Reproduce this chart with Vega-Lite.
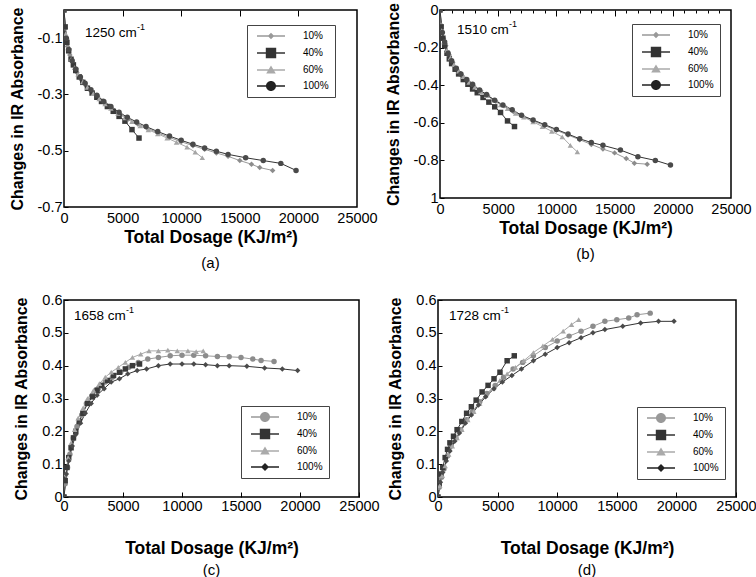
{
"padding": {"left": 8, "top": 1, "right": 3, "bottom": 0},
"config": {
  "font": "Liberation Sans",
  "view": {"stroke": "#000", "strokeWidth": 1.5},
  "axis": {"grid": false, "domain": false, "labelFontSize": 14.5, "labelColor": "#000", "titleFontSize": 16, "titleFontWeight": "bold", "titleColor": "#000", "tickColor": "#000", "tickWidth": 1},
  "axisX": {"titleFontSize": 17.5},
  "title": {"fontSize": 15, "fontWeight": "normal", "color": "#000", "font": "Liberation Sans"},
  "legend": {"labelFontSize": 10, "labelColor": "#000", "fillColor": "white", "strokeColor": "#444", "padding": 6, "rowPadding": 6, "symbolSize": 64, "symbolOpacity": 1, "symbolStrokeWidth": 0}
},
"spacing": 19,
"resolve": {"scale": {"x": "independent", "y": "independent", "color": "independent", "shape": "independent"}, "axis": {"x": "independent", "y": "independent"}, "legend": {"color": "independent", "shape": "independent"}},
"datasets": {"d": [
{"p":"a","s":"10%","x":0,"y":0},{"p":"a","s":"10%","x":100,"y":-0.065},{"p":"a","s":"10%","x":300,"y":-0.13},{"p":"a","s":"10%","x":500,"y":-0.16},{"p":"a","s":"10%","x":800,"y":-0.195},{"p":"a","s":"10%","x":1100,"y":-0.222},{"p":"a","s":"10%","x":1500,"y":-0.25},{"p":"a","s":"10%","x":1900,"y":-0.27},{"p":"a","s":"10%","x":2400,"y":-0.292},{"p":"a","s":"10%","x":2900,"y":-0.31},{"p":"a","s":"10%","x":3500,"y":-0.332},{"p":"a","s":"10%","x":4100,"y":-0.35},{"p":"a","s":"10%","x":4800,"y":-0.37},{"p":"a","s":"10%","x":5500,"y":-0.387},{"p":"a","s":"10%","x":6300,"y":-0.405},{"p":"a","s":"10%","x":7100,"y":-0.42},{"p":"a","s":"10%","x":8000,"y":-0.437},{"p":"a","s":"10%","x":9000,"y":-0.453},{"p":"a","s":"10%","x":10000,"y":-0.468},{"p":"a","s":"10%","x":11000,"y":-0.482},{"p":"a","s":"10%","x":12000,"y":-0.495},{"p":"a","s":"10%","x":13000,"y":-0.508},{"p":"a","s":"10%","x":14000,"y":-0.52},{"p":"a","s":"10%","x":15000,"y":-0.535},{"p":"a","s":"10%","x":16000,"y":-0.548},{"p":"a","s":"10%","x":16700,"y":-0.56},{"p":"a","s":"10%","x":17800,"y":-0.57},
{"p":"a","s":"40%","x":0,"y":0},{"p":"a","s":"40%","x":100,"y":-0.06},{"p":"a","s":"40%","x":250,"y":-0.115},{"p":"a","s":"40%","x":400,"y":-0.145},{"p":"a","s":"40%","x":600,"y":-0.175},{"p":"a","s":"40%","x":800,"y":-0.195},{"p":"a","s":"40%","x":1000,"y":-0.215},{"p":"a","s":"40%","x":1300,"y":-0.238},{"p":"a","s":"40%","x":1600,"y":-0.257},{"p":"a","s":"40%","x":2000,"y":-0.278},{"p":"a","s":"40%","x":2400,"y":-0.295},{"p":"a","s":"40%","x":2800,"y":-0.31},{"p":"a","s":"40%","x":3200,"y":-0.325},{"p":"a","s":"40%","x":3700,"y":-0.343},{"p":"a","s":"40%","x":4200,"y":-0.36},{"p":"a","s":"40%","x":4700,"y":-0.378},{"p":"a","s":"40%","x":5200,"y":-0.395},{"p":"a","s":"40%","x":5800,"y":-0.425},{"p":"a","s":"40%","x":6400,"y":-0.455},
{"p":"a","s":"60%","x":0,"y":0},{"p":"a","s":"60%","x":150,"y":-0.085},{"p":"a","s":"60%","x":350,"y":-0.135},{"p":"a","s":"60%","x":600,"y":-0.175},{"p":"a","s":"60%","x":900,"y":-0.205},{"p":"a","s":"60%","x":1200,"y":-0.228},{"p":"a","s":"60%","x":1600,"y":-0.255},{"p":"a","s":"60%","x":2000,"y":-0.275},{"p":"a","s":"60%","x":2500,"y":-0.297},{"p":"a","s":"60%","x":3000,"y":-0.316},{"p":"a","s":"60%","x":3500,"y":-0.334},{"p":"a","s":"60%","x":4000,"y":-0.35},{"p":"a","s":"60%","x":4600,"y":-0.367},{"p":"a","s":"60%","x":5200,"y":-0.383},{"p":"a","s":"60%","x":5800,"y":-0.397},{"p":"a","s":"60%","x":6500,"y":-0.412},{"p":"a","s":"60%","x":7200,"y":-0.426},{"p":"a","s":"60%","x":8000,"y":-0.44},{"p":"a","s":"60%","x":8800,"y":-0.455},{"p":"a","s":"60%","x":9600,"y":-0.47},{"p":"a","s":"60%","x":10500,"y":-0.487},{"p":"a","s":"60%","x":11200,"y":-0.505},{"p":"a","s":"60%","x":11800,"y":-0.525},
{"p":"a","s":"100%","x":0,"y":0},{"p":"a","s":"100%","x":200,"y":-0.1},{"p":"a","s":"100%","x":400,"y":-0.14},{"p":"a","s":"100%","x":700,"y":-0.18},{"p":"a","s":"100%","x":1000,"y":-0.21},{"p":"a","s":"100%","x":1400,"y":-0.238},{"p":"a","s":"100%","x":1800,"y":-0.26},{"p":"a","s":"100%","x":2300,"y":-0.283},{"p":"a","s":"100%","x":2800,"y":-0.303},{"p":"a","s":"100%","x":3400,"y":-0.325},{"p":"a","s":"100%","x":4000,"y":-0.343},{"p":"a","s":"100%","x":4700,"y":-0.363},{"p":"a","s":"100%","x":5400,"y":-0.381},{"p":"a","s":"100%","x":6200,"y":-0.398},{"p":"a","s":"100%","x":7000,"y":-0.414},{"p":"a","s":"100%","x":8000,"y":-0.432},{"p":"a","s":"100%","x":9000,"y":-0.448},{"p":"a","s":"100%","x":10000,"y":-0.463},{"p":"a","s":"100%","x":11000,"y":-0.477},{"p":"a","s":"100%","x":12000,"y":-0.49},{"p":"a","s":"100%","x":13000,"y":-0.502},{"p":"a","s":"100%","x":14000,"y":-0.513},{"p":"a","s":"100%","x":15500,"y":-0.525},{"p":"a","s":"100%","x":17000,"y":-0.535},{"p":"a","s":"100%","x":18500,"y":-0.545},{"p":"a","s":"100%","x":19800,"y":-0.57},

{"p":"b","s":"10%","x":0,"y":0},{"p":"b","s":"10%","x":100,"y":-0.08},{"p":"b","s":"10%","x":300,"y":-0.15},{"p":"b","s":"10%","x":500,"y":-0.19},{"p":"b","s":"10%","x":800,"y":-0.24},{"p":"b","s":"10%","x":1100,"y":-0.28},{"p":"b","s":"10%","x":1500,"y":-0.32},{"p":"b","s":"10%","x":1900,"y":-0.35},{"p":"b","s":"10%","x":2400,"y":-0.38},{"p":"b","s":"10%","x":2900,"y":-0.405},{"p":"b","s":"10%","x":3500,"y":-0.43},{"p":"b","s":"10%","x":4100,"y":-0.455},{"p":"b","s":"10%","x":4800,"y":-0.485},{"p":"b","s":"10%","x":5500,"y":-0.51},{"p":"b","s":"10%","x":6300,"y":-0.54},{"p":"b","s":"10%","x":7100,"y":-0.565},{"p":"b","s":"10%","x":8000,"y":-0.59},{"p":"b","s":"10%","x":9000,"y":-0.615},{"p":"b","s":"10%","x":10000,"y":-0.64},{"p":"b","s":"10%","x":11000,"y":-0.665},{"p":"b","s":"10%","x":12000,"y":-0.69},{"p":"b","s":"10%","x":13000,"y":-0.715},{"p":"b","s":"10%","x":14000,"y":-0.74},{"p":"b","s":"10%","x":15000,"y":-0.76},{"p":"b","s":"10%","x":16000,"y":-0.79},{"p":"b","s":"10%","x":16700,"y":-0.815},{"p":"b","s":"10%","x":17800,"y":-0.82},
{"p":"b","s":"40%","x":0,"y":0},{"p":"b","s":"40%","x":100,"y":-0.09},{"p":"b","s":"40%","x":250,"y":-0.15},{"p":"b","s":"40%","x":400,"y":-0.19},{"p":"b","s":"40%","x":600,"y":-0.23},{"p":"b","s":"40%","x":800,"y":-0.26},{"p":"b","s":"40%","x":1000,"y":-0.285},{"p":"b","s":"40%","x":1300,"y":-0.315},{"p":"b","s":"40%","x":1600,"y":-0.34},{"p":"b","s":"40%","x":2000,"y":-0.37},{"p":"b","s":"40%","x":2400,"y":-0.395},{"p":"b","s":"40%","x":2800,"y":-0.42},{"p":"b","s":"40%","x":3200,"y":-0.44},{"p":"b","s":"40%","x":3700,"y":-0.465},{"p":"b","s":"40%","x":4200,"y":-0.49},{"p":"b","s":"40%","x":4700,"y":-0.515},{"p":"b","s":"40%","x":5200,"y":-0.545},{"p":"b","s":"40%","x":5800,"y":-0.59},{"p":"b","s":"40%","x":6400,"y":-0.62},
{"p":"b","s":"60%","x":0,"y":0},{"p":"b","s":"60%","x":150,"y":-0.11},{"p":"b","s":"60%","x":350,"y":-0.17},{"p":"b","s":"60%","x":600,"y":-0.215},{"p":"b","s":"60%","x":900,"y":-0.255},{"p":"b","s":"60%","x":1200,"y":-0.29},{"p":"b","s":"60%","x":1600,"y":-0.325},{"p":"b","s":"60%","x":2000,"y":-0.355},{"p":"b","s":"60%","x":2500,"y":-0.385},{"p":"b","s":"60%","x":3000,"y":-0.41},{"p":"b","s":"60%","x":3500,"y":-0.435},{"p":"b","s":"60%","x":4000,"y":-0.455},{"p":"b","s":"60%","x":4600,"y":-0.48},{"p":"b","s":"60%","x":5200,"y":-0.505},{"p":"b","s":"60%","x":5800,"y":-0.525},{"p":"b","s":"60%","x":6500,"y":-0.55},{"p":"b","s":"60%","x":7200,"y":-0.57},{"p":"b","s":"60%","x":8000,"y":-0.595},{"p":"b","s":"60%","x":8800,"y":-0.62},{"p":"b","s":"60%","x":9600,"y":-0.645},{"p":"b","s":"60%","x":10500,"y":-0.675},{"p":"b","s":"60%","x":11200,"y":-0.72},{"p":"b","s":"60%","x":11800,"y":-0.755},
{"p":"b","s":"100%","x":0,"y":0},{"p":"b","s":"100%","x":200,"y":-0.12},{"p":"b","s":"100%","x":400,"y":-0.17},{"p":"b","s":"100%","x":700,"y":-0.23},{"p":"b","s":"100%","x":1000,"y":-0.27},{"p":"b","s":"100%","x":1400,"y":-0.31},{"p":"b","s":"100%","x":1800,"y":-0.34},{"p":"b","s":"100%","x":2300,"y":-0.37},{"p":"b","s":"100%","x":2800,"y":-0.395},{"p":"b","s":"100%","x":3400,"y":-0.425},{"p":"b","s":"100%","x":4000,"y":-0.45},{"p":"b","s":"100%","x":4700,"y":-0.48},{"p":"b","s":"100%","x":5400,"y":-0.505},{"p":"b","s":"100%","x":6200,"y":-0.53},{"p":"b","s":"100%","x":7000,"y":-0.56},{"p":"b","s":"100%","x":8000,"y":-0.585},{"p":"b","s":"100%","x":9000,"y":-0.61},{"p":"b","s":"100%","x":10000,"y":-0.635},{"p":"b","s":"100%","x":11000,"y":-0.66},{"p":"b","s":"100%","x":12000,"y":-0.685},{"p":"b","s":"100%","x":13000,"y":-0.705},{"p":"b","s":"100%","x":14000,"y":-0.72},{"p":"b","s":"100%","x":15500,"y":-0.745},{"p":"b","s":"100%","x":17000,"y":-0.78},{"p":"b","s":"100%","x":18500,"y":-0.8},{"p":"b","s":"100%","x":19800,"y":-0.825},

{"p":"c","s":"10%","x":0,"y":0},{"p":"c","s":"10%","x":100,"y":0.04},{"p":"c","s":"10%","x":300,"y":0.09},{"p":"c","s":"10%","x":500,"y":0.13},{"p":"c","s":"10%","x":800,"y":0.18},{"p":"c","s":"10%","x":1100,"y":0.215},{"p":"c","s":"10%","x":1500,"y":0.25},{"p":"c","s":"10%","x":1900,"y":0.285},{"p":"c","s":"10%","x":2400,"y":0.31},{"p":"c","s":"10%","x":2900,"y":0.33},{"p":"c","s":"10%","x":3500,"y":0.35},{"p":"c","s":"10%","x":4100,"y":0.365},{"p":"c","s":"10%","x":4800,"y":0.38},{"p":"c","s":"10%","x":5500,"y":0.395},{"p":"c","s":"10%","x":6300,"y":0.41},{"p":"c","s":"10%","x":7100,"y":0.42},{"p":"c","s":"10%","x":8000,"y":0.425},{"p":"c","s":"10%","x":9000,"y":0.43},{"p":"c","s":"10%","x":10000,"y":0.432},{"p":"c","s":"10%","x":11000,"y":0.432},{"p":"c","s":"10%","x":12000,"y":0.43},{"p":"c","s":"10%","x":13000,"y":0.428},{"p":"c","s":"10%","x":14000,"y":0.427},{"p":"c","s":"10%","x":15000,"y":0.425},{"p":"c","s":"10%","x":16000,"y":0.42},{"p":"c","s":"10%","x":16700,"y":0.416},{"p":"c","s":"10%","x":17800,"y":0.413},
{"p":"c","s":"40%","x":0,"y":0},{"p":"c","s":"40%","x":100,"y":0.05},{"p":"c","s":"40%","x":250,"y":0.09},{"p":"c","s":"40%","x":400,"y":0.12},{"p":"c","s":"40%","x":600,"y":0.15},{"p":"c","s":"40%","x":800,"y":0.18},{"p":"c","s":"40%","x":1000,"y":0.2},{"p":"c","s":"40%","x":1300,"y":0.23},{"p":"c","s":"40%","x":1600,"y":0.255},{"p":"c","s":"40%","x":2000,"y":0.285},{"p":"c","s":"40%","x":2400,"y":0.305},{"p":"c","s":"40%","x":2800,"y":0.325},{"p":"c","s":"40%","x":3200,"y":0.34},{"p":"c","s":"40%","x":3700,"y":0.355},{"p":"c","s":"40%","x":4200,"y":0.37},{"p":"c","s":"40%","x":4700,"y":0.38},{"p":"c","s":"40%","x":5200,"y":0.39},{"p":"c","s":"40%","x":5800,"y":0.4},{"p":"c","s":"40%","x":6400,"y":0.405},
{"p":"c","s":"60%","x":0,"y":0},{"p":"c","s":"60%","x":150,"y":0.07},{"p":"c","s":"60%","x":350,"y":0.12},{"p":"c","s":"60%","x":600,"y":0.165},{"p":"c","s":"60%","x":900,"y":0.205},{"p":"c","s":"60%","x":1200,"y":0.24},{"p":"c","s":"60%","x":1600,"y":0.27},{"p":"c","s":"60%","x":2000,"y":0.3},{"p":"c","s":"60%","x":2500,"y":0.325},{"p":"c","s":"60%","x":3000,"y":0.345},{"p":"c","s":"60%","x":3500,"y":0.365},{"p":"c","s":"60%","x":4000,"y":0.38},{"p":"c","s":"60%","x":4600,"y":0.395},{"p":"c","s":"60%","x":5200,"y":0.41},{"p":"c","s":"60%","x":5800,"y":0.425},{"p":"c","s":"60%","x":6500,"y":0.435},{"p":"c","s":"60%","x":7200,"y":0.445},{"p":"c","s":"60%","x":8000,"y":0.445},{"p":"c","s":"60%","x":8800,"y":0.447},{"p":"c","s":"60%","x":9600,"y":0.445},{"p":"c","s":"60%","x":10500,"y":0.445},{"p":"c","s":"60%","x":11200,"y":0.443},{"p":"c","s":"60%","x":11800,"y":0.445},
{"p":"c","s":"100%","x":0,"y":0},{"p":"c","s":"100%","x":200,"y":0.07},{"p":"c","s":"100%","x":400,"y":0.11},{"p":"c","s":"100%","x":700,"y":0.155},{"p":"c","s":"100%","x":1000,"y":0.19},{"p":"c","s":"100%","x":1400,"y":0.225},{"p":"c","s":"100%","x":1800,"y":0.255},{"p":"c","s":"100%","x":2300,"y":0.285},{"p":"c","s":"100%","x":2800,"y":0.31},{"p":"c","s":"100%","x":3400,"y":0.33},{"p":"c","s":"100%","x":4000,"y":0.35},{"p":"c","s":"100%","x":4700,"y":0.36},{"p":"c","s":"100%","x":5400,"y":0.375},{"p":"c","s":"100%","x":6200,"y":0.385},{"p":"c","s":"100%","x":7000,"y":0.39},{"p":"c","s":"100%","x":8000,"y":0.4},{"p":"c","s":"100%","x":9000,"y":0.405},{"p":"c","s":"100%","x":10000,"y":0.405},{"p":"c","s":"100%","x":11000,"y":0.405},{"p":"c","s":"100%","x":12000,"y":0.403},{"p":"c","s":"100%","x":13000,"y":0.4},{"p":"c","s":"100%","x":14000,"y":0.4},{"p":"c","s":"100%","x":15500,"y":0.398},{"p":"c","s":"100%","x":17000,"y":0.393},{"p":"c","s":"100%","x":18500,"y":0.39},{"p":"c","s":"100%","x":19800,"y":0.385},

{"p":"d","s":"10%","x":0,"y":0},{"p":"d","s":"10%","x":100,"y":0.03},{"p":"d","s":"10%","x":300,"y":0.06},{"p":"d","s":"10%","x":500,"y":0.085},{"p":"d","s":"10%","x":800,"y":0.125},{"p":"d","s":"10%","x":1100,"y":0.155},{"p":"d","s":"10%","x":1500,"y":0.18},{"p":"d","s":"10%","x":1900,"y":0.205},{"p":"d","s":"10%","x":2400,"y":0.235},{"p":"d","s":"10%","x":2900,"y":0.26},{"p":"d","s":"10%","x":3500,"y":0.29},{"p":"d","s":"10%","x":4100,"y":0.315},{"p":"d","s":"10%","x":4800,"y":0.34},{"p":"d","s":"10%","x":5500,"y":0.365},{"p":"d","s":"10%","x":6300,"y":0.39},{"p":"d","s":"10%","x":7100,"y":0.41},{"p":"d","s":"10%","x":8000,"y":0.43},{"p":"d","s":"10%","x":9000,"y":0.455},{"p":"d","s":"10%","x":10000,"y":0.475},{"p":"d","s":"10%","x":11000,"y":0.49},{"p":"d","s":"10%","x":12000,"y":0.505},{"p":"d","s":"10%","x":13000,"y":0.52},{"p":"d","s":"10%","x":14000,"y":0.535},{"p":"d","s":"10%","x":15000,"y":0.54},{"p":"d","s":"10%","x":16000,"y":0.545},{"p":"d","s":"10%","x":16700,"y":0.555},{"p":"d","s":"10%","x":17800,"y":0.56},
{"p":"d","s":"40%","x":0,"y":0},{"p":"d","s":"40%","x":100,"y":0.04},{"p":"d","s":"40%","x":250,"y":0.07},{"p":"d","s":"40%","x":400,"y":0.09},{"p":"d","s":"40%","x":600,"y":0.12},{"p":"d","s":"40%","x":800,"y":0.145},{"p":"d","s":"40%","x":1000,"y":0.165},{"p":"d","s":"40%","x":1300,"y":0.185},{"p":"d","s":"40%","x":1600,"y":0.205},{"p":"d","s":"40%","x":2000,"y":0.23},{"p":"d","s":"40%","x":2400,"y":0.255},{"p":"d","s":"40%","x":2800,"y":0.275},{"p":"d","s":"40%","x":3200,"y":0.295},{"p":"d","s":"40%","x":3700,"y":0.32},{"p":"d","s":"40%","x":4200,"y":0.34},{"p":"d","s":"40%","x":4700,"y":0.36},{"p":"d","s":"40%","x":5200,"y":0.38},{"p":"d","s":"40%","x":5800,"y":0.415},{"p":"d","s":"40%","x":6400,"y":0.43},
{"p":"d","s":"60%","x":0,"y":0},{"p":"d","s":"60%","x":150,"y":0.035},{"p":"d","s":"60%","x":350,"y":0.065},{"p":"d","s":"60%","x":600,"y":0.095},{"p":"d","s":"60%","x":900,"y":0.13},{"p":"d","s":"60%","x":1200,"y":0.155},{"p":"d","s":"60%","x":1600,"y":0.18},{"p":"d","s":"60%","x":2000,"y":0.205},{"p":"d","s":"60%","x":2500,"y":0.235},{"p":"d","s":"60%","x":3000,"y":0.26},{"p":"d","s":"60%","x":3500,"y":0.285},{"p":"d","s":"60%","x":4000,"y":0.31},{"p":"d","s":"60%","x":4600,"y":0.33},{"p":"d","s":"60%","x":5200,"y":0.355},{"p":"d","s":"60%","x":5800,"y":0.375},{"p":"d","s":"60%","x":6500,"y":0.395},{"p":"d","s":"60%","x":7200,"y":0.415},{"p":"d","s":"60%","x":8000,"y":0.44},{"p":"d","s":"60%","x":8800,"y":0.46},{"p":"d","s":"60%","x":9600,"y":0.48},{"p":"d","s":"60%","x":10500,"y":0.505},{"p":"d","s":"60%","x":11200,"y":0.525},{"p":"d","s":"60%","x":11800,"y":0.54},
{"p":"d","s":"100%","x":0,"y":0},{"p":"d","s":"100%","x":200,"y":0.045},{"p":"d","s":"100%","x":400,"y":0.075},{"p":"d","s":"100%","x":700,"y":0.11},{"p":"d","s":"100%","x":1000,"y":0.14},{"p":"d","s":"100%","x":1400,"y":0.17},{"p":"d","s":"100%","x":1800,"y":0.195},{"p":"d","s":"100%","x":2300,"y":0.225},{"p":"d","s":"100%","x":2800,"y":0.25},{"p":"d","s":"100%","x":3400,"y":0.28},{"p":"d","s":"100%","x":4000,"y":0.305},{"p":"d","s":"100%","x":4700,"y":0.33},{"p":"d","s":"100%","x":5400,"y":0.35},{"p":"d","s":"100%","x":6200,"y":0.37},{"p":"d","s":"100%","x":7000,"y":0.39},{"p":"d","s":"100%","x":8000,"y":0.415},{"p":"d","s":"100%","x":9000,"y":0.435},{"p":"d","s":"100%","x":10000,"y":0.455},{"p":"d","s":"100%","x":11000,"y":0.47},{"p":"d","s":"100%","x":12000,"y":0.485},{"p":"d","s":"100%","x":13000,"y":0.5},{"p":"d","s":"100%","x":14000,"y":0.51},{"p":"d","s":"100%","x":15500,"y":0.52},{"p":"d","s":"100%","x":17000,"y":0.53},{"p":"d","s":"100%","x":18500,"y":0.535},{"p":"d","s":"100%","x":19800,"y":0.535}
]},
"vconcat": [
 {"hconcat": [
  {"width": 293, "height": 197,
   "title": {"text": "(a)", "orient": "bottom", "offset": 10},
   "layer": [
    {"data": {"name": "d"}, "transform": [{"filter": "datum.p == 'a'"}],
     "mark": {"type": "line", "strokeWidth": 1, "clip": true},
     "encoding": {
      "x": {"field": "x", "type": "quantitative", "scale": {"domain": [0, 25000], "nice": false, "zero": false}, "axis": {"orient": "top", "labels": false, "title": null, "values": [5000, 10000, 15000, 20000], "tickSize": -6}},
      "y": {"field": "y", "type": "quantitative", "scale": {"domain": [-0.7, 0], "nice": false, "zero": false}, "axis": {"title": "Changes in IR Absorbance", "values": [-0.7, -0.5, -0.3, -0.1], "labelExpr": "'-' + format(-datum.value, '.1f')", "tickSize": -4, "labelPadding": 6, "titlePadding": 12}},
      "color": {"field": "s", "type": "nominal", "scale": {"domain": ["10%", "40%", "60%", "100%"], "range": ["#9a9a9a", "#333333", "#aaaaaa", "#333333"]}, "legend": null}}},
    {"data": {"name": "d"}, "transform": [{"filter": "datum.p == 'a'"}],
     "mark": {"type": "point", "filled": true, "size": 30, "opacity": 1, "clip": true},
     "encoding": {
      "x": {"field": "x", "type": "quantitative", "scale": {"domain": [0, 25000], "nice": false, "zero": false}, "axis": {"title": "Total Dosage (KJ/m²)", "values": [0, 5000, 10000, 15000, 20000, 25000], "format": "d", "ticks": false, "labelPadding": 4, "titlePadding": 4, "labelFlush": false}},
      "y": {"field": "y", "type": "quantitative", "scale": {"domain": [-0.7, 0], "nice": false, "zero": false}, "axis": null},
      "color": {"field": "s", "type": "nominal", "scale": {"domain": ["10%", "40%", "60%", "100%"], "range": ["#8c8c8c", "#3a3a3a", "#a6a6a6", "#4a4a4a"]}, "legend": null},
      "shape": {"field": "s", "type": "nominal", "scale": {"domain": ["10%", "40%", "60%", "100%"], "range": ["diamond", "square", "triangle-up", "circle"]}, "legend": null}}},
    {"data": {"name": "d"}, "transform": [{"filter": "datum.p == 'a'"}],
     "mark": {"type": "point", "filled": true, "opacity": 0},
     "encoding": {
      "x": {"field": "x", "type": "quantitative", "scale": {"domain": [0, 25000], "nice": false, "zero": false}, "axis": null},
      "y": {"field": "y", "type": "quantitative", "scale": {"domain": [-0.7, 0], "nice": false, "zero": false}, "axis": null},
      "color": {"field": "s", "type": "nominal", "scale": {"domain": ["10%", "40%", "60%", "100%"], "range": ["#999999", "#333333", "#aaaaaa", "#222222"]}, "legend": {"orient": "none", "legendX": 183, "legendY": 15, "title": null, "symbolOffset": 13, "labelOffset": 27}},
      "shape": {"field": "s", "type": "nominal", "scale": {"domain": ["10%", "40%", "60%", "100%"], "range": ["M-3.5,-0.18H3.5V0.18H-3.5Z M0,-0.8L0.8,0L0,0.8L-0.8,0Z", "M-3.5,-0.18H3.5V0.18H-3.5Z M-1.3,-1.3H1.3V1.3H-1.3Z", "M-3.5,-0.18H3.5V0.18H-3.5Z M0,-1.1L1.2,0.9H-1.2Z", "M-3.5,-0.18H3.5V0.18H-3.5Z M-1.25,0A1.25,1.25,0,1,1,1.25,0A1.25,1.25,0,1,1,-1.25,0Z"]}, "legend": {"orient": "none", "legendX": 183, "legendY": 15, "title": null, "symbolOffset": 13, "labelOffset": 27}}}},
    {"data": {"values": [{}]},
     "mark": {"type": "text", "align": "left", "baseline": "middle", "fontSize": 13.5},
     "encoding": {"x": {"datum": 1790, "type": "quantitative", "scale": {"domain": [0, 25000], "nice": false, "zero": false}, "axis": null}, "y": {"datum": -0.08, "type": "quantitative", "scale": {"domain": [-0.7, 0], "nice": false, "zero": false}, "axis": null}, "text": {"value": "1250 cm"}}},
    {"data": {"values": [{}]},
     "mark": {"type": "text", "align": "left", "baseline": "middle", "fontSize": 9, "dx": 52, "dy": -6},
     "encoding": {"x": {"datum": 1790, "type": "quantitative", "scale": {"domain": [0, 25000], "nice": false, "zero": false}, "axis": null}, "y": {"datum": -0.08, "type": "quantitative", "scale": {"domain": [-0.7, 0], "nice": false, "zero": false}, "axis": null}, "text": {"value": "-1"}}}
   ],
   "resolve": {"scale": {"color": "independent", "shape": "independent"}, "axis": {"x": "independent", "y": "independent"}}
  },
  {"width": 291, "height": 188,
   "title": {"text": "(b)", "orient": "bottom", "offset": 10},
   "layer": [
    {"data": {"name": "d"}, "transform": [{"filter": "datum.p == 'b'"}],
     "mark": {"type": "line", "strokeWidth": 1, "clip": true},
     "encoding": {
      "x": {"field": "x", "type": "quantitative", "scale": {"domain": [0, 25000], "nice": false, "zero": false}, "axis": {"orient": "top", "labels": false, "title": null, "values": [1000, 2000, 3000, 4000, 5000, 6000, 7000, 8000, 9000, 10000, 11000, 12000, 13000, 14000, 15000, 16000, 17000, 18000, 19000, 20000, 21000, 22000, 23000, 24000], "tickSize": {"condition": {"test": "datum.value % 5000 == 0", "value": -6}, "value": -3}}},
      "y": {"field": "y", "type": "quantitative", "scale": {"domain": [-1, 0], "nice": false, "zero": false}, "axis": {"title": "Changes in IR Absorbance", "values": [-1, -0.8, -0.6, -0.4, -0.2, 0], "labelExpr": "datum.value == 0 ? '0' : (datum.value <= -1 ? '1' : '-' + format(-datum.value, '.1f'))", "tickSize": -4, "labelPadding": 6, "titlePadding": 12}},
      "color": {"field": "s", "type": "nominal", "scale": {"domain": ["10%", "40%", "60%", "100%"], "range": ["#9a9a9a", "#333333", "#aaaaaa", "#333333"]}, "legend": null}}},
    {"data": {"name": "d"}, "transform": [{"filter": "datum.p == 'b'"}],
     "mark": {"type": "point", "filled": true, "size": 30, "opacity": 1, "clip": true},
     "encoding": {
      "x": {"field": "x", "type": "quantitative", "scale": {"domain": [0, 25000], "nice": false, "zero": false}, "axis": {"title": "Total Dosage (KJ/m²)", "values": [0, 5000, 10000, 15000, 20000, 25000], "format": "d", "ticks": false, "labelPadding": 4, "titlePadding": 4, "labelFlush": false}},
      "y": {"field": "y", "type": "quantitative", "scale": {"domain": [-1, 0], "nice": false, "zero": false}, "axis": null},
      "color": {"field": "s", "type": "nominal", "scale": {"domain": ["10%", "40%", "60%", "100%"], "range": ["#8c8c8c", "#3a3a3a", "#a6a6a6", "#4a4a4a"]}, "legend": null},
      "shape": {"field": "s", "type": "nominal", "scale": {"domain": ["10%", "40%", "60%", "100%"], "range": ["diamond", "square", "triangle-up", "circle"]}, "legend": null}}},
    {"data": {"name": "d"}, "transform": [{"filter": "datum.p == 'b'"}],
     "mark": {"type": "point", "filled": true, "opacity": 0},
     "encoding": {
      "x": {"field": "x", "type": "quantitative", "scale": {"domain": [0, 25000], "nice": false, "zero": false}, "axis": null},
      "y": {"field": "y", "type": "quantitative", "scale": {"domain": [-1, 0], "nice": false, "zero": false}, "axis": null},
      "color": {"field": "s", "type": "nominal", "scale": {"domain": ["10%", "40%", "60%", "100%"], "range": ["#999999", "#333333", "#aaaaaa", "#222222"]}, "legend": {"orient": "none", "legendX": 192, "legendY": 14, "title": null, "symbolOffset": 13, "labelOffset": 27}},
      "shape": {"field": "s", "type": "nominal", "scale": {"domain": ["10%", "40%", "60%", "100%"], "range": ["M-3.5,-0.18H3.5V0.18H-3.5Z M0,-0.8L0.8,0L0,0.8L-0.8,0Z", "M-3.5,-0.18H3.5V0.18H-3.5Z M-1.3,-1.3H1.3V1.3H-1.3Z", "M-3.5,-0.18H3.5V0.18H-3.5Z M0,-1.1L1.2,0.9H-1.2Z", "M-3.5,-0.18H3.5V0.18H-3.5Z M-1.25,0A1.25,1.25,0,1,1,1.25,0A1.25,1.25,0,1,1,-1.25,0Z"]}, "legend": {"orient": "none", "legendX": 192, "legendY": 14, "title": null, "symbolOffset": 13, "labelOffset": 27}}}},
    {"data": {"values": [{}]},
     "mark": {"type": "text", "align": "left", "baseline": "middle", "fontSize": 13.5},
     "encoding": {"x": {"datum": 1460, "type": "quantitative", "scale": {"domain": [0, 25000], "nice": false, "zero": false}, "axis": null}, "y": {"datum": -0.105, "type": "quantitative", "scale": {"domain": [-1, 0], "nice": false, "zero": false}, "axis": null}, "text": {"value": "1510 cm"}}},
    {"data": {"values": [{}]},
     "mark": {"type": "text", "align": "left", "baseline": "middle", "fontSize": 9, "dx": 52, "dy": -6},
     "encoding": {"x": {"datum": 1460, "type": "quantitative", "scale": {"domain": [0, 25000], "nice": false, "zero": false}, "axis": null}, "y": {"datum": -0.105, "type": "quantitative", "scale": {"domain": [-1, 0], "nice": false, "zero": false}, "axis": null}, "text": {"value": "-1"}}}
   ],
   "resolve": {"scale": {"color": "independent", "shape": "independent"}, "axis": {"x": "independent", "y": "independent"}}
  }
 ], "spacing": 6,
 "resolve": {"scale": {"x": "independent", "y": "independent", "color": "independent", "shape": "independent"}, "legend": {"color": "independent", "shape": "independent"}}},
 {"hconcat": [
  {"width": 295, "height": 197,
   "title": {"text": "(c)", "orient": "bottom", "offset": 6},
   "layer": [
    {"data": {"name": "d"}, "transform": [{"filter": "datum.p == 'c'"}],
     "mark": {"type": "line", "strokeWidth": 1, "clip": true},
     "encoding": {
      "x": {"field": "x", "type": "quantitative", "scale": {"domain": [0, 25000], "nice": false, "zero": false}, "axis": {"title": "Total Dosage (KJ/m²)", "values": [0, 5000, 10000, 15000, 20000, 25000], "format": "d", "tickSize": -5, "labelPadding": 7, "titlePadding": 27, "labelFlush": false}},
      "y": {"field": "y", "type": "quantitative", "scale": {"domain": [0, 0.6], "nice": false, "zero": false}, "axis": {"title": "Changes in IR Absorbance", "values": [0, 0.1, 0.2, 0.3, 0.4, 0.5, 0.6], "labelExpr": "datum.value == 0 ? '0' : format(datum.value, '.1f')", "tickSize": -4, "labelPadding": 6, "titlePadding": 12}},
      "color": {"field": "s", "type": "nominal", "scale": {"domain": ["10%", "40%", "60%", "100%"], "range": ["#9a9a9a", "#333333", "#aaaaaa", "#333333"]}, "legend": null}}},
    {"data": {"name": "d"}, "transform": [{"filter": "datum.p == 'c'"}],
     "mark": {"type": "point", "filled": true, "size": 30, "opacity": 1, "clip": true},
     "encoding": {
      "x": {"field": "x", "type": "quantitative", "scale": {"domain": [0, 25000], "nice": false, "zero": false}, "axis": null},
      "y": {"field": "y", "type": "quantitative", "scale": {"domain": [0, 0.6], "nice": false, "zero": false}, "axis": null},
      "color": {"field": "s", "type": "nominal", "scale": {"domain": ["10%", "40%", "60%", "100%"], "range": ["#8c8c8c", "#3a3a3a", "#a6a6a6", "#4a4a4a"]}, "legend": null},
      "shape": {"field": "s", "type": "nominal", "scale": {"domain": ["10%", "40%", "60%", "100%"], "range": ["circle", "square", "triangle-up", "diamond"]}, "legend": null}}},
    {"data": {"name": "d"}, "transform": [{"filter": "datum.p == 'c'"}],
     "mark": {"type": "point", "filled": true, "opacity": 0},
     "encoding": {
      "x": {"field": "x", "type": "quantitative", "scale": {"domain": [0, 25000], "nice": false, "zero": false}, "axis": null},
      "y": {"field": "y", "type": "quantitative", "scale": {"domain": [0, 0.6], "nice": false, "zero": false}, "axis": null},
      "color": {"field": "s", "type": "nominal", "scale": {"domain": ["10%", "40%", "60%", "100%"], "range": ["#999999", "#333333", "#aaaaaa", "#222222"]}, "legend": {"orient": "none", "legendX": 177, "legendY": 106, "title": null, "symbolOffset": 13, "labelOffset": 27}},
      "shape": {"field": "s", "type": "nominal", "scale": {"domain": ["10%", "40%", "60%", "100%"], "range": ["M-3.5,-0.18H3.5V0.18H-3.5Z M-1.25,0A1.25,1.25,0,1,1,1.25,0A1.25,1.25,0,1,1,-1.25,0Z", "M-3.5,-0.18H3.5V0.18H-3.5Z M-1.3,-1.3H1.3V1.3H-1.3Z", "M-3.5,-0.18H3.5V0.18H-3.5Z M0,-1.1L1.2,0.9H-1.2Z", "M-3.5,-0.18H3.5V0.18H-3.5Z M0,-1L1,0L0,1L-1,0Z"]}, "legend": {"orient": "none", "legendX": 177, "legendY": 106, "title": null, "symbolOffset": 13, "labelOffset": 27}}}},
    {"data": {"values": [{}]},
     "mark": {"type": "text", "align": "left", "baseline": "middle", "fontSize": 13.5},
     "encoding": {"x": {"datum": 850, "type": "quantitative", "scale": {"domain": [0, 25000], "nice": false, "zero": false}, "axis": null}, "y": {"datum": 0.552, "type": "quantitative", "scale": {"domain": [0, 0.6], "nice": false, "zero": false}, "axis": null}, "text": {"value": "1658 cm"}}},
    {"data": {"values": [{}]},
     "mark": {"type": "text", "align": "left", "baseline": "middle", "fontSize": 9, "dx": 52, "dy": -6},
     "encoding": {"x": {"datum": 850, "type": "quantitative", "scale": {"domain": [0, 25000], "nice": false, "zero": false}, "axis": null}, "y": {"datum": 0.552, "type": "quantitative", "scale": {"domain": [0, 0.6], "nice": false, "zero": false}, "axis": null}, "text": {"value": "-1"}}}
   ],
   "resolve": {"scale": {"color": "independent", "shape": "independent"}, "axis": {"x": "independent", "y": "independent"}}
  },
  {"width": 298, "height": 197,
   "title": {"text": "(d)", "orient": "bottom", "offset": 6},
   "layer": [
    {"data": {"name": "d"}, "transform": [{"filter": "datum.p == 'd'"}],
     "mark": {"type": "line", "strokeWidth": 1, "clip": true},
     "encoding": {
      "x": {"field": "x", "type": "quantitative", "scale": {"domain": [0, 25000], "nice": false, "zero": false}, "axis": {"title": "Total Dosage (KJ/m²)", "values": [0, 5000, 10000, 15000, 20000, 25000], "format": "d", "tickSize": -5, "labelPadding": 7, "titlePadding": 27, "labelFlush": false}},
      "y": {"field": "y", "type": "quantitative", "scale": {"domain": [0, 0.6], "nice": false, "zero": false}, "axis": {"title": "Changes in IR Absorbance", "values": [0, 0.1, 0.2, 0.3, 0.4, 0.5, 0.6], "labelExpr": "datum.value == 0 ? '0' : format(datum.value, '.1f')", "tickSize": -4, "labelPadding": 6, "titlePadding": 12}},
      "color": {"field": "s", "type": "nominal", "scale": {"domain": ["10%", "40%", "60%", "100%"], "range": ["#9a9a9a", "#333333", "#aaaaaa", "#333333"]}, "legend": null}}},
    {"data": {"name": "d"}, "transform": [{"filter": "datum.p == 'd'"}],
     "mark": {"type": "point", "filled": true, "size": 30, "opacity": 1, "clip": true},
     "encoding": {
      "x": {"field": "x", "type": "quantitative", "scale": {"domain": [0, 25000], "nice": false, "zero": false}, "axis": null},
      "y": {"field": "y", "type": "quantitative", "scale": {"domain": [0, 0.6], "nice": false, "zero": false}, "axis": null},
      "color": {"field": "s", "type": "nominal", "scale": {"domain": ["10%", "40%", "60%", "100%"], "range": ["#8c8c8c", "#3a3a3a", "#a6a6a6", "#4a4a4a"]}, "legend": null},
      "shape": {"field": "s", "type": "nominal", "scale": {"domain": ["10%", "40%", "60%", "100%"], "range": ["circle", "square", "triangle-up", "diamond"]}, "legend": null}}},
    {"data": {"name": "d"}, "transform": [{"filter": "datum.p == 'd'"}],
     "mark": {"type": "point", "filled": true, "opacity": 0},
     "encoding": {
      "x": {"field": "x", "type": "quantitative", "scale": {"domain": [0, 25000], "nice": false, "zero": false}, "axis": null},
      "y": {"field": "y", "type": "quantitative", "scale": {"domain": [0, 0.6], "nice": false, "zero": false}, "axis": null},
      "color": {"field": "s", "type": "nominal", "scale": {"domain": ["10%", "40%", "60%", "100%"], "range": ["#999999", "#333333", "#aaaaaa", "#222222"]}, "legend": {"orient": "none", "legendX": 199, "legendY": 107, "title": null, "symbolOffset": 13, "labelOffset": 27}},
      "shape": {"field": "s", "type": "nominal", "scale": {"domain": ["10%", "40%", "60%", "100%"], "range": ["M-3.5,-0.18H3.5V0.18H-3.5Z M-1.25,0A1.25,1.25,0,1,1,1.25,0A1.25,1.25,0,1,1,-1.25,0Z", "M-3.5,-0.18H3.5V0.18H-3.5Z M-1.3,-1.3H1.3V1.3H-1.3Z", "M-3.5,-0.18H3.5V0.18H-3.5Z M0,-1.1L1.2,0.9H-1.2Z", "M-3.5,-0.18H3.5V0.18H-3.5Z M0,-1L1,0L0,1L-1,0Z"]}, "legend": {"orient": "none", "legendX": 199, "legendY": 107, "title": null, "symbolOffset": 13, "labelOffset": 27}}}},
    {"data": {"values": [{}]},
     "mark": {"type": "text", "align": "left", "baseline": "middle", "fontSize": 13.5},
     "encoding": {"x": {"datum": 917, "type": "quantitative", "scale": {"domain": [0, 25000], "nice": false, "zero": false}, "axis": null}, "y": {"datum": 0.55, "type": "quantitative", "scale": {"domain": [0, 0.6], "nice": false, "zero": false}, "axis": null}, "text": {"value": "1728 cm"}}},
    {"data": {"values": [{}]},
     "mark": {"type": "text", "align": "left", "baseline": "middle", "fontSize": 9, "dx": 52, "dy": -6},
     "encoding": {"x": {"datum": 917, "type": "quantitative", "scale": {"domain": [0, 25000], "nice": false, "zero": false}, "axis": null}, "y": {"datum": 0.55, "type": "quantitative", "scale": {"domain": [0, 0.6], "nice": false, "zero": false}, "axis": null}, "text": {"value": "-1"}}}
   ],
   "resolve": {"scale": {"color": "independent", "shape": "independent"}, "axis": {"x": "independent", "y": "independent"}}
  }
 ], "spacing": 7,
 "resolve": {"scale": {"x": "independent", "y": "independent", "color": "independent", "shape": "independent"}, "legend": {"color": "independent", "shape": "independent"}}}
]
}
